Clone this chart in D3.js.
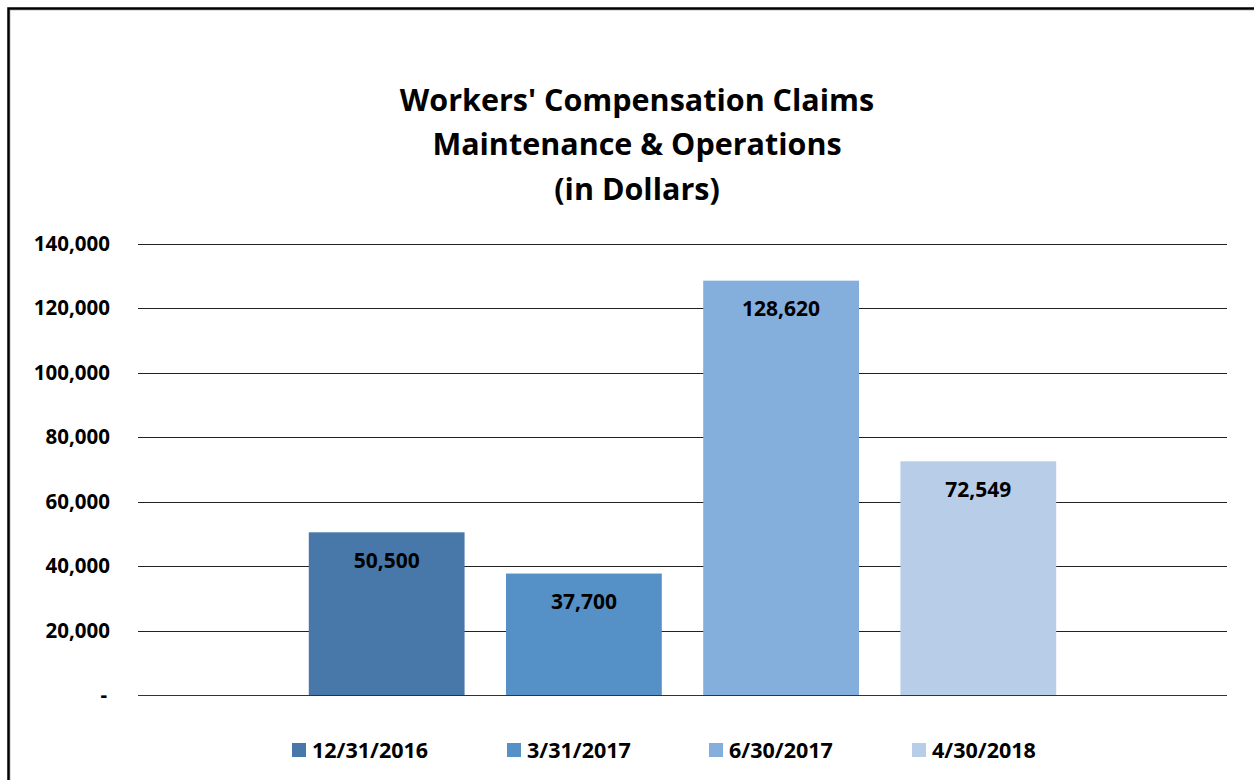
<!DOCTYPE html>
<html>
<head>
<meta charset="utf-8">
<script src="https://cdn.jsdelivr.net/npm/d3@7"></script>
<style>
  html, body { margin: 0; padding: 0; background: #fff; }
  svg text { font-family: "Open Sans", "Liberation Sans", sans-serif; font-weight: bold; fill: #000; }
</style>
</head>
<body>
<div id="chart"></div>
<script>
const titleLines = ["Workers' Compensation Claims", "Maintenance & Operations", "(in Dollars)"];
const series = ["12/31/2016", "3/31/2017", "6/30/2017", "4/30/2018"];
const values = [50500, 37700, 128620, 72549];
const colors = ["#4778a9", "#5590c7", "#84aedb", "#b8cde8"];
const yTicks = [0, 20000, 40000, 60000, 80000, 100000, 120000, 140000];

const W = 1254, H = 780;
const plot = {left: 138, right: 1227, top: 244, bottom: 695};

const svg = d3.select("#chart").append("svg")
	.attr("width", W)
	.attr("height", H);

// frame
svg.append("rect")
	.attr("x", 10).attr("y", 10)
	.attr("width", W).attr("height", H)
	.attr("fill", "none")
	.attr("stroke", "#bbb")
	.attr("stroke-width", 1);
svg.append("rect")
	.attr("x", 8.5).attr("y", 8.5)
	.attr("width", W).attr("height", H)
	.attr("fill", "none")
	.attr("stroke", "#000")
	.attr("stroke-width", 2.5);

// title
svg.append("g")
	.selectAll("text")
	.data(titleLines)
	.join("text")
	.attr("x", 637)
	.attr("y", (d, i) => 100 + i * 44.5)
	.attr("dy", "0.36em")
	.attr("text-anchor", "middle")
	.style("font-size", "30.5px")
	.text(d => d);

const y = d3.scaleLinear()
	.domain([0, 140000])
	.range([plot.bottom, plot.top]);

const x = d3.scaleBand()
	.domain(series)
	.range([plot.left, plot.right])
	.paddingInner(0.21)
	.paddingOuter(0.866);

// gridlines
svg.append("g")
	.selectAll("line")
	.data(yTicks)
	.join("line")
	.attr("x1", plot.left)
	.attr("x2", plot.right)
	.attr("y1", d => Math.round(y(d)) + 0.5)
	.attr("y2", d => Math.round(y(d)) + 0.5)
	.attr("stroke", "#222")
	.attr("stroke-width", 1.2);

// y axis labels
const fmt = d3.format(",");
const yAxis = svg.append("g")
	.attr("transform", `translate(${plot.left - 28},0)`)
	.call(d3.axisLeft(y).tickValues(yTicks).tickSize(0).tickPadding(0)
		.tickFormat(d => d === 0 ? "-" : fmt(d)));
yAxis.select(".domain").remove();
yAxis.selectAll("text")
	.style("font-size", "20.5px")
	.style("font-family", "\"Open Sans\", sans-serif")
	.style("font-weight", "bold")
	.attr("fill", "#000");
yAxis.selectAll(".tick")
	.filter(d => d === 0)
	.select("text")
	.attr("dx", -3);

// bars
svg.append("g")
	.selectAll("rect")
	.data(values)
	.join("rect")
	.attr("x", (d, i) => x(series[i]))
	.attr("y", d => y(d))
	.attr("width", x.bandwidth())
	.attr("height", d => y(0) - y(d))
	.attr("fill", (d, i) => colors[i]);

// baseline over bars
svg.append("line")
	.attr("x1", plot.left).attr("x2", plot.right)
	.attr("y1", Math.round(y(0)) + 0.5).attr("y2", Math.round(y(0)) + 0.5)
	.attr("stroke", "#333")
	.attr("stroke-width", 1.2);

// value labels
svg.append("g")
	.selectAll("text")
	.data(values)
	.join("text")
	.attr("x", (d, i) => x(series[i]) + x.bandwidth() / 2)
	.attr("y", d => y(d) + 28)
	.attr("dy", "0.36em")
	.attr("text-anchor", "middle")
	.style("font-size", "21px")
	.text(d => fmt(d));

// legend
const legendX = [292, 507, 709, 912];
const legend = svg.append("g")
	.selectAll("g")
	.data(series)
	.join("g")
	.attr("transform", (d, i) => `translate(${legendX[i]},750)`);
legend.append("rect")
	.attr("x", 0).attr("y", -7)
	.attr("width", 14).attr("height", 14)
	.attr("fill", (d, i) => colors[i]);
legend.append("text")
	.attr("x", 20)
	.attr("dy", "0.36em")
	.style("font-size", "21.5px")
	.text(d => d);
</script>
</body>
</html>
